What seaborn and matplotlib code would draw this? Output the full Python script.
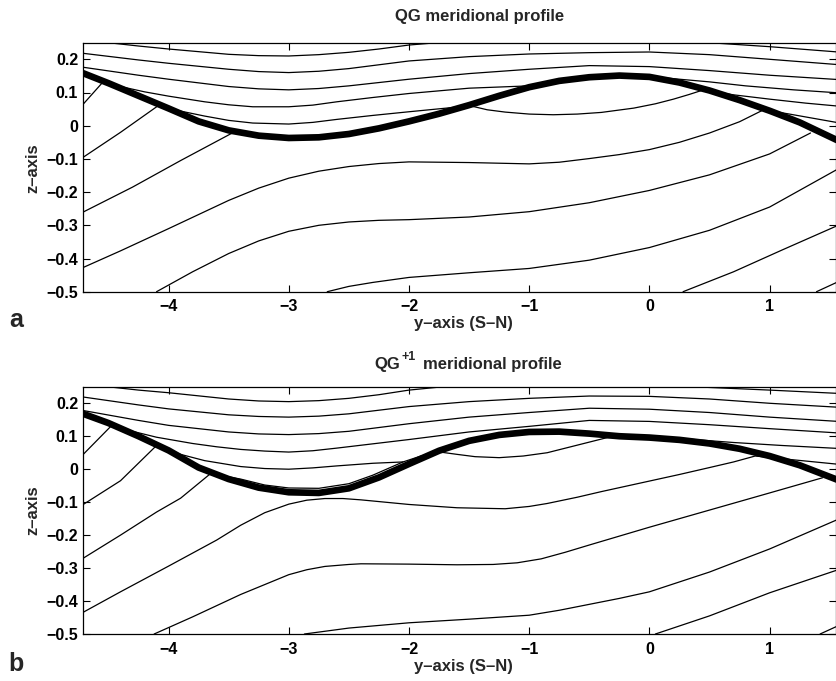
import numpy as np
import pandas as pd
import matplotlib
matplotlib.use("Agg")
import matplotlib.pyplot as plt
import seaborn as sns

# ---------------- data ----------------
# x = y-axis (S-N), z = height; one named pair of lists per contour line

# ---- panel a (QG) ----
A_THICK_X = [-4.71, -4.5, -4.25, -4.0, -3.75, -3.5, -3.25, -3.0, -2.75, -2.5, -2.25, -2.0, -1.75,
             -1.5, -1.25, -1.0, -0.75, -0.5, -0.25, 0.0, 0.25, 0.5, 0.75, 1.0, 1.25, 1.57]
A_THICK_Z = [0.158, 0.128, 0.09, 0.052, 0.013, -0.014, -0.03, -0.037, -0.035, -0.025, -0.008, 0.013, 0.036,
             0.062, 0.09, 0.116, 0.135, 0.146, 0.151, 0.147, 0.13, 0.106, 0.077, 0.045, 0.01, -0.045]

A_S1_X = [-4.71, -4.5, -4.25, -4.0, -3.5, -3.25, -3.0, -2.75, -2.5, -2.25, -2.0, -1.5, -1.0, -0.5, 0.0, 0.5, 1.0, 1.57]
A_S1_Z = [0.262, 0.25, 0.24, 0.231, 0.215, 0.211, 0.21, 0.214, 0.221, 0.231, 0.243, 0.258, 0.266, 0.266, 0.261, 0.25, 0.238, 0.222]
A_S2_X = [-4.71, -4.25, -4.0, -3.5, -3.25, -3.0, -2.75, -2.5, -2.0, -1.5, -1.0, -0.5, 0.0, 0.5, 1.0, 1.57]
A_S2_Z = [0.218, 0.198, 0.188, 0.17, 0.163, 0.16, 0.164, 0.172, 0.195, 0.208, 0.216, 0.22, 0.222, 0.214, 0.2, 0.184]
A_S3_X = [-4.71, -4.25, -4.0, -3.5, -3.25, -3.0, -2.75, -2.5, -2.0, -1.5, -1.0, -0.5, 0.0, 0.5, 1.0, 1.57]
A_S3_Z = [0.176, 0.152, 0.14, 0.118, 0.111, 0.108, 0.112, 0.12, 0.14, 0.157, 0.17, 0.181, 0.178, 0.166, 0.152, 0.139]
A_L1_X = [-4.71, -4.54, -4.4, -4.2, -4.0, -3.7, -3.5, -3.3, -3.0, -2.8, -2.6, -2.3, -2.0, -1.5, -1.0,
          -0.5, 0.0, 0.25, 0.5, 0.8, 1.2, 1.57]
A_L1_Z = [0.065, 0.134, 0.118, 0.102, 0.089, 0.072, 0.063, 0.057, 0.057, 0.062, 0.072, 0.085, 0.097, 0.113, 0.12,
          0.145, 0.148, 0.14, 0.132, 0.12, 0.108, 0.099]
A_L2_X = [-4.71, -4.4, -4.08, -3.9, -3.7, -3.5, -3.3, -3.0, -2.8, -2.6, -2.3, -2.0, -1.49, -1.35, -1.2,
          -1.0, -0.8, -0.6, -0.4, -0.13, 0.05, 0.2, 0.33, 0.45, 0.7, 1.0, 1.3, 1.57]
A_L2_Z = [-0.095, -0.02, 0.062, 0.044, 0.029, 0.016, 0.008, 0.005, 0.01, 0.019, 0.031, 0.042, 0.06, 0.048, 0.041,
          0.035, 0.033, 0.035, 0.04, 0.053, 0.066, 0.08, 0.094, 0.108, 0.093, 0.08, 0.068, 0.059]
A_L3_X = [-4.71, -4.3, -3.9, -3.46]
A_L3_Z = [-0.26, -0.185, -0.105, -0.02]
A_L4_X = [-4.71, -4.4, -4.0, -3.5, -3.25, -3.0, -2.75, -2.5, -2.25, -2.0, -1.5, -1.0, -0.75, -0.5, -0.25,
          0.0, 0.25, 0.5, 0.75, 0.95, 1.15, 1.57]
A_L4_Z = [-0.427, -0.377, -0.31, -0.225, -0.188, -0.158, -0.137, -0.123, -0.114, -0.109, -0.111, -0.115, -0.11, -0.099, -0.087,
          -0.072, -0.05, -0.022, 0.012, 0.048, 0.036, 0.009]
A_L5_X = [-4.1, -3.8, -3.5, -3.25, -3.0, -2.75, -2.5, -2.25, -2.0, -1.5, -1.0, -0.5, 0.0, 0.5, 1.0, 1.34]
A_L5_Z = [-0.5, -0.44, -0.385, -0.347, -0.318, -0.3, -0.29, -0.285, -0.283, -0.275, -0.259, -0.232, -0.195, -0.148, -0.085, -0.022]
A_L6_X = [-2.68, -2.5, -2.3, -2.0, -1.5, -1.0, -0.5, 0.0, 0.5, 1.0, 1.57]
A_L6_Z = [-0.5, -0.484, -0.472, -0.457, -0.443, -0.43, -0.405, -0.367, -0.315, -0.245, -0.13]
A_L7_X = [0.28, 0.7, 1.1, 1.57]
A_L7_Z = [-0.5, -0.44, -0.375, -0.3]
A_L8_X = [1.39, 1.57]
A_L8_Z = [-0.5, -0.47]

# ---- panel b (QG+1) ----
B_THICK_X = [-4.71, -4.5, -4.25, -4.0, -3.75, -3.5, -3.25, -3.0, -2.75, -2.5, -2.25, -2.0, -1.75,
             -1.5, -1.25, -1.0, -0.75, -0.5, -0.25, 0.0, 0.25, 0.5, 0.75, 1.0, 1.25, 1.57]
B_THICK_Z = [0.168, 0.14, 0.1, 0.057, 0.005, -0.03, -0.056, -0.07, -0.072, -0.058, -0.025, 0.016, 0.056,
             0.086, 0.104, 0.113, 0.114, 0.108, 0.1, 0.096, 0.089, 0.078, 0.062, 0.04, 0.012, -0.033]

B_S1_X = [-4.71, -4.5, -4.25, -4.0, -3.5, -3.25, -3.0, -2.75, -2.5, -2.25, -2.0, -1.5, -1.0, -0.5, 0.0, 0.5, 1.0, 1.57]
B_S1_Z = [0.262, 0.25, 0.24, 0.232, 0.213, 0.207, 0.205, 0.208, 0.215, 0.226, 0.24, 0.258, 0.266, 0.264, 0.256, 0.248, 0.24, 0.23]
B_S2_X = [-4.71, -4.25, -4.0, -3.5, -3.25, -3.0, -2.75, -2.5, -2.0, -1.5, -1.0, -0.5, 0.0, 0.5, 1.0, 1.57]
B_S2_Z = [0.219, 0.195, 0.183, 0.165, 0.16, 0.158, 0.161, 0.168, 0.19, 0.205, 0.215, 0.222, 0.221, 0.213, 0.2, 0.188]
B_S3_X = [-4.71, -4.25, -4.0, -3.5, -3.25, -3.0, -2.75, -2.5, -2.0, -1.5, -1.0, -0.5, 0.0, 0.5, 1.0, 1.57]
B_S3_Z = [0.178, 0.148, 0.133, 0.113, 0.107, 0.105, 0.108, 0.115, 0.138, 0.158, 0.172, 0.185, 0.182, 0.172, 0.158, 0.145]
B_L1_X = [-4.71, -4.47, -4.3, -4.1, -3.8, -3.6, -3.4, -3.2, -3.0, -2.8, -2.6, -2.3, -2.0, -1.5, -1.0,
          -0.5, 0.0, 0.5, 1.0, 1.57]
B_L1_Z = [0.045, 0.134, 0.115, 0.097, 0.078, 0.068, 0.06, 0.055, 0.052, 0.056, 0.064, 0.077, 0.09, 0.113, 0.13,
          0.148, 0.145, 0.135, 0.123, 0.11]
B_L2_X = [-4.71, -4.4, -4.1, -3.9, -3.7, -3.4, -3.2, -3.0, -2.8, -2.6, -2.3, -2.05, -1.9, -1.76, -1.6,
          -1.45, -1.25, -1.05, -0.85, -0.6, -0.35, 0.0, 0.3, 0.7, 1.1, 1.57]
B_L2_Z = [-0.107, -0.035, 0.072, 0.045, 0.026, 0.008, 0.002, 0.0, 0.004, 0.01, 0.018, 0.022, 0.04, 0.053, 0.045,
          0.038, 0.035, 0.04, 0.05, 0.073, 0.096, 0.098, 0.092, 0.081, 0.072, 0.063]
B_L3_X = [-4.71, -4.4, -4.1, -3.9, -3.65, -3.4, -3.2, -3.0, -2.75, -2.5, -2.3, -2.05]
B_L3_Z = [-0.27, -0.2, -0.13, -0.088, -0.013, -0.03, -0.048, -0.057, -0.058, -0.044, -0.018, 0.022]
B_L4_X = [-4.71, -4.4, -4.0, -3.6, -3.4, -3.2, -3.0, -2.85, -2.7, -2.55, -2.4, -2.2, -2.0, -1.6, -1.2,
          -1.0, -0.85, -0.6, -0.4, -0.2, 0.0, 0.25, 0.5, 0.7, 0.88, 1.1, 1.57]
B_L4_Z = [-0.434, -0.372, -0.294, -0.215, -0.17, -0.132, -0.106, -0.094, -0.089, -0.089, -0.093, -0.1, -0.107, -0.117, -0.12,
          -0.113, -0.104, -0.085, -0.068, -0.052, -0.036, -0.016, 0.005, 0.022, 0.04, 0.032, 0.015]
B_L5_X = [-4.12, -3.8, -3.4, -3.0, -2.85, -2.7, -2.5, -2.4, -2.0, -1.6, -1.3, -1.1, -0.9, -0.7, -0.5,
          0.0, 0.5, 1.0, 1.44]
B_L5_Z = [-0.5, -0.448, -0.38, -0.32, -0.305, -0.295, -0.289, -0.287, -0.288, -0.29, -0.289, -0.284, -0.272, -0.252, -0.23,
          -0.176, -0.124, -0.072, -0.026]
B_L6_X = [-2.87, -2.5, -2.0, -1.5, -1.0, -0.75, -0.5, -0.25, 0.0, 0.5, 1.0, 1.57]
B_L6_Z = [-0.5, -0.482, -0.466, -0.455, -0.443, -0.428, -0.41, -0.392, -0.372, -0.312, -0.242, -0.152]
B_L7_X = [0.05, 0.5, 1.0, 1.57]
B_L7_Z = [-0.5, -0.445, -0.375, -0.305]
B_L8_X = [1.42, 1.57]
B_L8_Z = [-0.5, -0.475]

X_TICKS = [-4, -3, -2, -1, 0, 1]
X_TICK_LABELS = ["\u22124", "\u22123", "\u22122", "\u22121", "0", "1"]
Z_TICKS = [-0.5, -0.4, -0.3, -0.2, -0.1, 0.0, 0.1, 0.2]
Z_TICK_LABELS = ["\u22120.5", "\u22120.4", "\u22120.3", "\u22120.2", "\u22120.1", "0", "0.1", "0.2"]

TITLE_A = "QG meridional profile"
TITLE_B_MAIN = "QG"
TITLE_B_SUP = "+1"
TITLE_B_REST = "meridional profile"
XLABEL = "y\u2013axis (S\u2013N)"
ZLABEL = "z\u2013axis"

# ---------------- style ----------------
sns.set_style("ticks")
plt.rcParams["font.family"] = ["Liberation Sans", "DejaVu Sans"]
plt.rcParams["font.weight"] = "bold"
plt.rcParams["axes.unicode_minus"] = True

W, H = 836, 681
fig = plt.figure(figsize=(W / 100, H / 100), dpi=100)
fig.patch.set_facecolor("white")

X0, X1 = -4.712, 1.548


def px(x0, y0, w, h):
    return [x0 / W, 1 - (y0 + h) / H, w / W, h / H]


def draw_panel(ax, thick, thins):
    for (xs, zs) in thins:
        df = pd.DataFrame({"y": xs, "z": zs})
        sns.lineplot(data=df, x="y", y="z", ax=ax, sort=False, estimator=None,
                     color="black", linewidth=0.9, legend=False)
    df = pd.DataFrame({"y": thick[0], "z": thick[1]})
    sns.lineplot(data=df, x="y", y="z", ax=ax, sort=False, estimator=None,
                 color="black", linewidth=4.8, legend=False, zorder=5)
    ax.set_xlim(X0, X1)
    ax.set_ylim(-0.5, 0.25)
    ax.set_xticks(X_TICKS)
    ax.set_xticklabels(X_TICK_LABELS)
    ax.set_yticks(Z_TICKS)
    ax.set_yticklabels(Z_TICK_LABELS)
    ax.set_xlabel("")
    ax.set_ylabel("")
    ax.tick_params(direction="in", length=5, width=0.8, top=True, right=True,
                   labelsize=11.5, colors="black")
    ax.tick_params(axis="x", pad=5.5)
    ax.tick_params(axis="y", pad=3.5)
    for lab in ax.get_xticklabels() + ax.get_yticklabels():
        lab.set_fontweight("bold")
    for s in ax.spines.values():
        s.set_visible(True)
        s.set_linewidth(0.9)
        s.set_color("black")
    ax.set_facecolor("white")


axA = fig.add_axes(px(83, 42.7, 752.5, 249.0))
draw_panel(axA, (A_THICK_X, A_THICK_Z),
           [(A_S1_X, A_S1_Z), (A_S2_X, A_S2_Z), (A_S3_X, A_S3_Z), (A_L1_X, A_L1_Z),
            (A_L2_X, A_L2_Z), (A_L3_X, A_L3_Z), (A_L4_X, A_L4_Z), (A_L5_X, A_L5_Z),
            (A_L6_X, A_L6_Z), (A_L7_X, A_L7_Z), (A_L8_X, A_L8_Z)])

axB = fig.add_axes(px(83, 386.8, 752.5, 247.2))
draw_panel(axB, (B_THICK_X, B_THICK_Z),
           [(B_S1_X, B_S1_Z), (B_S2_X, B_S2_Z), (B_S3_X, B_S3_Z), (B_L1_X, B_L1_Z),
            (B_L2_X, B_L2_Z), (B_L3_X, B_L3_Z), (B_L4_X, B_L4_Z), (B_L5_X, B_L5_Z),
            (B_L6_X, B_L6_Z), (B_L7_X, B_L7_Z), (B_L8_X, B_L8_Z)])


def ftext(x, y, s, **kw):
    return fig.text(x / W, 1 - y / H, s, **kw)


ftext(480, 16, TITLE_A, ha="center", va="center", fontsize=12, fontweight="bold")
# panel b title assembled from pieces: "QG", superscript "+1", rest
ftext(400, 364, TITLE_B_MAIN, ha="right", va="center", fontsize=12, fontweight="bold")
ftext(402, 357, TITLE_B_SUP, ha="left", va="center", fontsize=9, fontweight="bold")
ftext(423, 364, TITLE_B_REST, ha="left", va="center", fontsize=12, fontweight="bold")
ftext(463, 324, XLABEL, ha="center", va="center", fontsize=12, fontweight="bold")
ftext(463, 667, XLABEL, ha="center", va="center", fontsize=12, fontweight="bold")
ftext(33, 168, ZLABEL, ha="center", va="center", rotation=90, fontsize=12, fontweight="bold")
ftext(33, 510, ZLABEL, ha="center", va="center", rotation=90, fontsize=12, fontweight="bold")
ftext(16, 320, "a", ha="center", va="center", fontsize=18, fontweight="bold")
ftext(16, 664, "b", ha="center", va="center", fontsize=18, fontweight="bold")

fig.savefig("out.png", dpi=100, facecolor="white")
